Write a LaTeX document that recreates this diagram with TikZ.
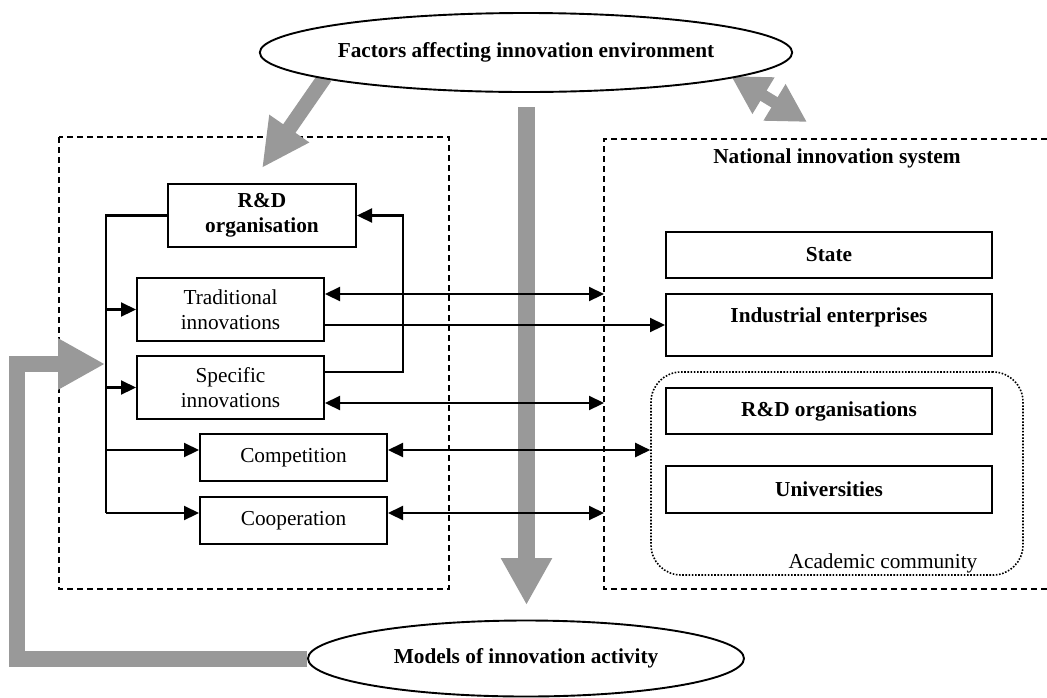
\documentclass[tikz,border=0pt]{standalone}
\usepackage{fontspec}
\setmainfont{Liberation Serif}
\usetikzlibrary{arrows.meta,shapes.geometric,calc}
\definecolor{gfill}{RGB}{153,153,153}
\pgfdeclarelayer{bg}
\pgfsetlayers{bg,main}
\begin{document}
\begin{tikzpicture}[x=1pt,y=-1pt,
  every node/.style={font=\fontsize{21.3}{25}\selectfont, inner sep=0pt},
  bf/.style={font=\fontsize{21.3}{25}\selectfont\bfseries},
  box/.style={draw, line width=2pt, rectangle, align=center},
  oval/.style={draw, ellipse, line width=1.9pt, fill=white},
  ln/.style={line width=2.2pt},
  arr/.style={ln, -{Triangle[length=15pt,width=14pt]}},
  dbl/.style={ln, {Triangle[length=15pt,width=14pt]}-{Triangle[length=15pt,width=14pt]}},
  frame/.style={line width=1.6pt, dash pattern=on 6pt off 4pt},
  garr/.style={draw=gfill, line join=miter},
]
\useasboundingbox (0,0) rectangle (1047,697);

% ellipses
\node[oval, bf, minimum width=436pt, minimum height=79pt] (fac) at (526,52.5) {Factors affecting innovation environment};
\node[oval, bf, minimum width=436pt, minimum height=76pt] (mod) at (526,658.5) {Models of innovation activity};

% left boxes
\node[box, bf, minimum width=188pt, minimum height=63pt] (rdo) at (262,215.5) {R\&D\\organisation};
\node[box, minimum width=187pt, minimum height=63pt] (trad) at (230.5,309.5) {Traditional\\innovations};
\node[box, minimum width=187pt, minimum height=63pt] (spec) at (230.5,387.5) {Specific\\innovations};
\node[box, minimum width=187pt, minimum height=47pt] (comp) at (293.5,457.5) {Competition};
\node[box, minimum width=187pt, minimum height=47pt] (coop) at (293.5,520.5) {Cooperation};

% right side
\node[bf] (nis) at (837,158) {National innovation system};
\node[draw, line width=1.6pt, dash pattern=on 1.6pt off 1.6pt, rounded corners=30pt,
      minimum width=372pt, minimum height=203pt] (acad) at (837,473.5) {};
\node[box, bf, minimum width=326pt, minimum height=46pt] (state) at (829,255) {State};
\node[box, bf, minimum width=326pt, minimum height=62pt, text height=10pt, text depth=16pt] (ind) at (829,325) {Industrial enterprises};
\node[box, bf, minimum width=326pt, minimum height=46pt] (rdos) at (829,411) {R\&D organisations};
\node[box, bf, minimum width=326pt, minimum height=47pt] (univ) at (829,489.5) {Universities};
\node (acadl) at (883,563) {Academic community};

% helper coordinates
\coordinate (vx) at (106,0);
\coordinate (fx) at (403,0);
\coordinate (nisL) at (604,0);
\coordinate (compin) at ([yshift=7.5pt]comp.west);
\coordinate (coopin) at ([yshift=7.5pt]coop.west);
\coordinate (compout) at ([yshift=7.5pt]comp.east);
\coordinate (coopout) at ([yshift=7.5pt]coop.east);
\coordinate (tradup) at ([yshift=15.5pt]trad.east);
\coordinate (traddn) at ([yshift=-15.5pt]trad.east);
\coordinate (specup) at ([yshift=15.5pt]spec.east);
\coordinate (specdn) at ([yshift=-15.5pt]spec.east);
\coordinate (g1s) at (325,77);
\coordinate (g1e) at (262,168);
\coordinate (g2s) at (526.5,107);
\coordinate (g2e) at (526.5,605);
\coordinate (g3a) at (731,76);
\coordinate (g3b) at (807,122);
\coordinate (fbc) at (17,364);
\coordinate (fbe) at (105,364);

\begin{pgfonlayer}{bg}
  % frames
  \draw[frame] (59,137) rectangle (449,589);
  \draw[frame] (1047,139) -- (604,139) -- (604,589) -- (1047,589);
  % gray arrows
  \draw[garr, line width=15pt, -{Triangle[length=48pt,width=45pt]}] (g1s) -- (g1e);
  \draw[garr, line width=17pt, -{Triangle[length=47pt,width=48pt]}] (g2s) -- (g2e);
  \draw[garr, line width=12pt, {Triangle[length=38pt,width=40pt]}-{Triangle[length=38pt,width=40pt]}] (g3a) -- (g3b);
  \draw[garr, line width=16pt, -{Triangle[length=47pt,width=48pt]}] (mod.west) -| (fbc) -- (fbe);
\end{pgfonlayer}

% black connectors
\draw[ln] (rdo.west) -| (vx |- coopin);
\draw[arr] (vx |- trad.west) -- (trad.west);
\draw[arr] (vx |- spec.west) -- (spec.west);
\draw[arr] (vx |- compin) -- (compin);
\draw[arr] (vx |- coopin) -- (coopin);
\draw[arr] (specup) -| (fx |- rdo.east) -- (rdo.east);
\draw[dbl] (tradup) -- (tradup -| nisL);
\draw[arr] (traddn) -- (traddn -| ind.west);
\draw[dbl] (specdn) -- (specdn -| nisL);
\draw[dbl] (compout) -- (compout -| acad.west);
\draw[dbl] (coopout) -- (coopout -| nisL);
\end{tikzpicture}
\end{document}
